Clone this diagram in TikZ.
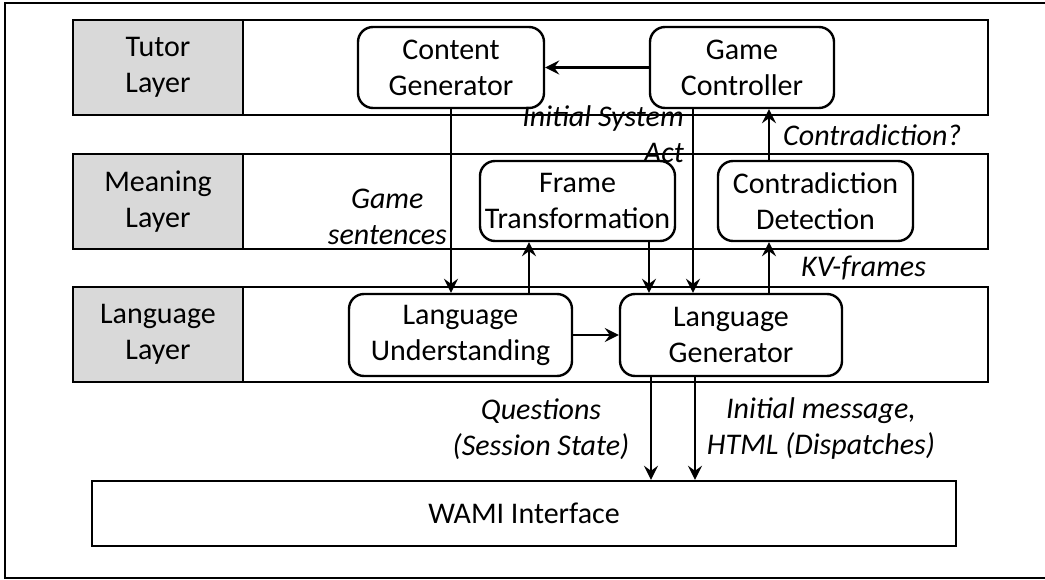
\documentclass[tikz,border=0pt]{standalone}
\usepackage{fontspec}
\setmainfont{Carlito}
\usetikzlibrary{arrows.meta}
\tikzset{
  lay/.style={draw, line width=2.4pt, minimum width=915pt, minimum height=95pt, inner sep=0pt},
  laylabel/.style={draw, line width=2.4pt, fill=gray!30, minimum width=170pt, minimum height=95pt, inner sep=0pt, align=center, font=\fontsize{30}{36}\selectfont},
  mod/.style={draw, line width=2.4pt, rounded corners=15pt, inner sep=0pt, align=center, font=\fontsize{30}{36}\selectfont},
  lbl/.style={inner sep=0pt, font=\fontsize{30}{36}\selectfont\itshape},
  arr/.style={line width=2.6pt, -{Stealth[length=14pt,width=14pt,inset=5pt]}}
}
\begin{document}
\begin{tikzpicture}[x=1pt,y=-1pt]
\useasboundingbox (0,0) rectangle (1045,580);
% outer frame (open to the right)
\draw[line width=2.4pt] (1046,3) -- (5,3) -- (5,578) -- (1046,578);
% layers
\node[lay] (tutor) at (530.5,67.5) {};
\node[lay] (meaning) at (530.5,201.5) {};
\node[lay] (language) at (530.5,334.5) {};
\node[laylabel] (tutorlbl) at (158,67.5) {Tutor\\Layer};
\node[laylabel] (meaninglbl) at (158,201.5) {Meaning\\Layer};
\node[laylabel] (languagelbl) at (158,334.5) {Language\\Layer};
% WAMI
\node[draw, line width=2.4pt, minimum width=864pt, minimum height=65pt, inner sep=0pt, font=\fontsize{30}{36}\selectfont] (W) at (524,513.5) {WAMI Interface};
% modules
\node[mod, minimum width=186pt, minimum height=81pt] (CG) at (451,67.5) {Content\\Generator};
\node[mod, minimum width=184pt, minimum height=81pt] (GC) at (742,67.5) {Game\\Controller};
\node[mod, minimum width=195pt, minimum height=80pt] (FT) at (577.5,201) {Frame\\Transformation};
\node[mod, minimum width=195pt, minimum height=80pt] (CD) at (815.5,201) {Contradiction\\Detection};
\node[mod, minimum width=223pt, minimum height=82pt] (LU) at (460.5,335) {Language\\Understanding};
\node[mod, minimum width=222pt, minimum height=82pt] (LG) at (731,335) {Language\\Generator};
% x positions of vertical connectors
\coordinate (xa) at (693,0);
\coordinate (xb) at (769,0);
\coordinate (xc) at (529,0);
\coordinate (xd) at (649,0);
\coordinate (xe) at (651,0);
\coordinate (xf) at (695,0);
% connectors
\draw[arr] (GC.west) -- (CG.east);
\draw[arr] (CG.south) -- (CG.south |- LU.north);
\draw[arr] (GC.south -| xa) -- (LG.north -| xa);
\draw[arr] (CD.north -| xb) -- (GC.south -| xb);
\draw[arr] (LG.north -| xb) -- (CD.south -| xb);
\draw[arr] (LU.north -| xc) -- (FT.south -| xc);
\draw[arr] (FT.south -| xd) -- (LG.north -| xd);
\draw[arr] (LU.east) -- (LG.west);
\draw[arr] (LG.south -| xe) -- (W.north -| xe);
\draw[arr] (LG.south -| xf) -- (W.north -| xf);
% labels
\node[lbl, anchor=east, align=center] (l1) at (447,217) {Game\\sentences};
\node[lbl, anchor=east, align=right] (l2) at (684,134) {Initial System\\Act};
\node[lbl, anchor=west] (l3) at (783,135) {Contradiction?};
\node[lbl, anchor=west] (l4) at (801,268) {KV-frames};
\node[lbl, align=center] (l5) at (541,429) {Questions\\(Session State)};
\node[lbl, align=center] (l6) at (821,429) {Initial message,\\HTML (Dispatches)};
\end{tikzpicture}
\end{document}
